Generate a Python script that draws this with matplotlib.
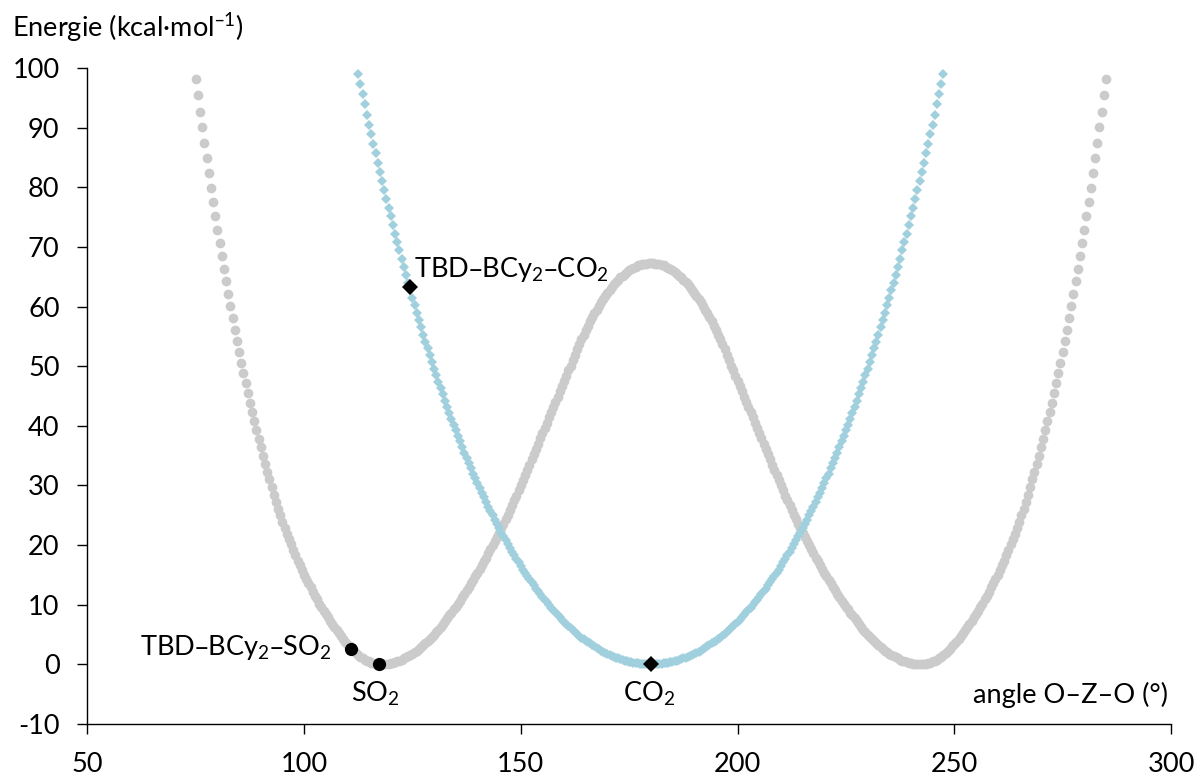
import numpy as np
import matplotlib
matplotlib.use("Agg")
import matplotlib.pyplot as plt

# ---------------- data ----------------
# angle grid of the scans: one point every 0.5 degree
gray_start, gray_stop, blue_start, blue_stop, step = 75.0, 285.0, 112.5, 247.5, 0.5

# SO2-like double well (grey), energies in kcal/mol, theta = 75 ... 285
gray_energy = [
    98.1, 95.4, 92.7, 90.1, 87.5, 84.9, 82.4, 79.9, 77.5, 75.2,
    72.9, 70.7, 68.5, 66.3, 64.2, 62.1, 60.1, 58.1, 56.1, 54.2,
    52.4, 50.6, 48.8, 47.1, 45.5, 43.9, 42.3, 40.8, 39.3, 37.8,
    36.4, 35.0, 33.6, 32.3, 31.0, 29.7, 28.4,
    27.2, 26.1, 25.0, 23.9, 22.9, 21.9, 21.0, 20.1, 19.2, 18.3,
    17.4, 16.6, 15.8, 15.0, 14.3, 13.6, 12.9, 12.2, 11.5, 10.9,
    10.2, 9.6, 9.0, 8.4, 7.9, 7.3, 6.8, 6.2, 5.7, 5.2,
    4.7, 4.3, 3.8, 3.4, 3.0, 2.6, 2.3, 1.9, 1.6, 1.3,
    1.1, 0.8, 0.6, 0.5, 0.3, 0.2, 0.1, 0.0, 0.0,
    0.0, 0.0, 0.1, 0.1, 0.2, 0.3, 0.4, 0.5, 0.6, 0.8,
    1.0, 1.2, 1.4, 1.6, 1.8, 2.0, 2.3, 2.6, 2.9, 3.2,
    3.5, 3.9, 4.2, 4.6, 5.0, 5.4, 5.8, 6.3, 6.7, 7.2,
    7.7, 8.2, 8.6, 9.2, 9.7, 10.2, 10.7, 11.3, 11.8, 12.4,
    13.0, 13.6, 14.1, 14.8, 15.4, 16.0, 16.6, 17.3, 17.9, 18.6,
    19.3, 20.0, 20.7, 21.4, 22.1, 22.8, 23.6, 24.3, 25.1, 25.9,
    26.7, 27.5, 28.3, 29.2, 30.0, 30.9, 31.8, 32.6, 33.5, 34.4,
    35.3, 36.1, 37.0, 37.9, 38.8, 39.6, 40.5, 41.4, 42.3, 43.1,
    44.0, 44.9, 45.8, 46.6, 47.5, 48.4, 49.3, 50.1, 51.0, 51.9,
    52.9, 53.7, 54.5, 55.3, 56.1, 56.8, 57.5, 58.2, 58.9, 59.5,
    60.1, 60.7, 61.3, 61.8, 62.3, 62.8, 63.3, 63.7, 64.1, 64.5,
    64.9, 65.2, 65.5, 65.8, 66.1, 66.3, 66.5, 66.7, 66.9, 67.0,
    67.1, 67.2, 67.2, 67.3, 67.3,
    67.3, 67.2, 67.2, 67.1,
    67.0, 66.9, 66.7, 66.5, 66.3, 66.1, 65.8, 65.5, 65.2, 64.9,
    64.5, 64.1, 63.7, 63.3, 62.8, 62.3, 61.8, 61.3, 60.7, 60.1,
    59.5, 58.9, 58.2, 57.5, 56.8, 56.1, 55.3, 54.5, 53.7, 52.9,
    51.9, 51.0, 50.1, 49.3, 48.4, 47.5, 46.6, 45.8, 44.9, 44.0,
    43.1, 42.3, 41.4, 40.5, 39.6, 38.8, 37.9, 37.0, 36.1, 35.3,
    34.4, 33.5, 32.6, 31.8, 30.9, 30.0, 29.2, 28.3, 27.5, 26.7,
    25.9, 25.1, 24.3, 23.6, 22.8, 22.1, 21.4, 20.7, 20.0, 19.3,
    18.6, 17.9, 17.3, 16.6, 16.0, 15.4, 14.8, 14.1, 13.6, 13.0,
    12.4, 11.8, 11.3, 10.7, 10.2, 9.7, 9.2, 8.6, 8.2, 7.7,
    7.2, 6.7, 6.3, 5.8, 5.4, 5.0, 4.6, 4.2, 3.9, 3.5,
    3.2, 2.9, 2.6, 2.3, 2.0, 1.8, 1.6, 1.4, 1.2, 1.0,
    0.8, 0.6, 0.5, 0.4, 0.3, 0.2, 0.1, 0.1, 0.0, 0.0,
    0.0, 0.0, 0.1, 0.2, 0.3, 0.5, 0.6, 0.8, 1.1,
    1.3, 1.6, 1.9, 2.3, 2.6, 3.0, 3.4, 3.8, 4.3, 4.7,
    5.2, 5.7, 6.2, 6.8, 7.3, 7.9, 8.4, 9.0, 9.6, 10.2,
    10.9, 11.5, 12.2, 12.9, 13.6, 14.3, 15.0, 15.8, 16.6, 17.4,
    18.3, 19.2, 20.1, 21.0, 21.9, 22.9, 23.9, 25.0, 26.1, 27.2,
    28.4, 29.7, 31.0, 32.3, 33.6, 35.0, 36.4,
    37.8, 39.3, 40.8, 42.3, 43.9, 45.5, 47.1, 48.8, 50.6, 52.4,
    54.2, 56.1, 58.1, 60.1, 62.1, 64.2, 66.3, 68.5, 70.7, 72.9,
    75.2, 77.5, 79.9, 82.4, 84.9, 87.5, 90.1, 92.7, 95.4, 98.1,
]

# CO2-like single well (blue), theta = 112.5 ... 247.5
blue_energy = [
    99.0, 97.3, 95.6, 93.9, 92.2, 90.5, 88.9, 87.3, 85.7, 84.1,
    82.6, 81.0, 79.5, 78.0, 76.5, 75.1, 73.6, 72.2, 70.8, 69.4,
    68.0, 66.7, 65.3, 64.0, 62.7, 61.4, 60.2, 58.9, 57.7, 56.5,
    55.3, 54.1, 53.0, 51.8, 50.7, 49.6, 48.5, 47.4, 46.3, 45.3,
    44.2, 43.2, 42.2, 41.2, 40.2, 39.3, 38.3, 37.4, 36.4, 35.5,
    34.6, 33.8, 32.9, 32.0, 31.2, 30.4, 29.6, 28.8, 28.0, 27.2,
    26.4, 25.7, 25.0, 24.2, 23.5, 22.8, 22.1, 21.5, 20.8, 20.2,
    19.5, 18.9, 18.3, 17.7, 17.1, 16.5, 15.9, 15.4, 14.8, 14.3,
    13.8, 13.3, 12.7, 12.3, 11.8, 11.3, 10.8, 10.4, 9.9, 9.5,
    9.1, 8.7, 8.3, 7.9, 7.5, 7.1, 6.8, 6.4, 6.1, 5.8,
    5.4, 5.1, 4.8, 4.5, 4.3, 4.0, 3.7, 3.5, 3.2, 3.0,
    2.8, 2.5, 2.3, 2.1, 1.9, 1.8, 1.6, 1.4, 1.3, 1.1,
    1.0, 0.9, 0.7, 0.6, 0.5, 0.4, 0.4, 0.3, 0.2, 0.2,
    0.1, 0.1, 0.0, 0.0, 0.0, 0.0,
    0.0, 0.0, 0.0, 0.1, 0.1,
    0.2, 0.2, 0.3, 0.4, 0.4, 0.5, 0.6, 0.7, 0.9, 1.0,
    1.1, 1.3, 1.4, 1.6, 1.8, 1.9, 2.1, 2.3, 2.5, 2.8,
    3.0, 3.2, 3.5, 3.7, 4.0, 4.3, 4.5, 4.8, 5.1, 5.4,
    5.8, 6.1, 6.4, 6.8, 7.1, 7.5, 7.9, 8.3, 8.7, 9.1,
    9.5, 9.9, 10.4, 10.8, 11.3, 11.8, 12.3, 12.7, 13.3, 13.8,
    14.3, 14.8, 15.4, 15.9, 16.5, 17.1, 17.7, 18.3, 18.9, 19.5,
    20.2, 20.8, 21.5, 22.1, 22.8, 23.5, 24.2, 25.0, 25.7, 26.4,
    27.2, 28.0, 28.8, 29.6, 30.4, 31.2, 32.0, 32.9, 33.8, 34.6,
    35.5, 36.4, 37.4, 38.3, 39.3, 40.2, 41.2, 42.2, 43.2, 44.2,
    45.3, 46.3, 47.4, 48.5, 49.6, 50.7, 51.8, 53.0, 54.1, 55.3,
    56.5, 57.7, 58.9, 60.2, 61.4, 62.7, 64.0, 65.3, 66.7, 68.0,
    69.4, 70.8, 72.2, 73.6, 75.1, 76.5, 78.0, 79.5, 81.0, 82.6,
    84.1, 85.7, 87.3, 88.9, 90.5, 92.2, 93.9, 95.6, 97.3, 99.0,
]

# highlighted structures
so2_points_x = [110.8, 117.4]
so2_points_y = [2.6, 0.0]
co2_points_x = [124.4, 180.0]
co2_points_y = [63.3, 0.0]

x_ticks = [50, 100, 150, 200, 250, 300]
y_ticks = [-10, 0, 10, 20, 30, 40, 50, 60, 70, 80, 90, 100]

# ---------------- style ----------------
plt.rcParams['font.family'] = ['Lato', 'DejaVu Sans']
plt.rcParams['mathtext.default'] = 'regular'
plt.rcParams['axes.unicode_minus'] = False

FS = 19.5
GRAY = '#CBCBCB'
BLUE = '#A0CFDD'

fig = plt.figure(figsize=(11.98, 7.78), dpi=100)
ax = fig.add_axes([87.3 / 1198, 1 - 724 / 778, (1171 - 87.3) / 1198, (724 - 68) / 778])

gray_theta = np.arange(gray_start, gray_stop + step / 2, step)
blue_theta = np.arange(blue_start, blue_stop + step / 2, step)

g_line, = ax.plot(gray_theta, gray_energy, linestyle='none', marker='o', markersize=7.0,
                  color=GRAY, markeredgewidth=0, zorder=2, clip_on=False)
b_line, = ax.plot(blue_theta, blue_energy, linestyle='none', marker='D', markersize=4.6,
                  color=BLUE, markeredgewidth=0, zorder=3, clip_on=False)
g_line.set_snap(False)
b_line.set_snap(False)

ax.plot(so2_points_x, so2_points_y, linestyle='none', marker='o', markersize=9.5,
        color='black', markeredgewidth=0, zorder=5)
ax.plot(co2_points_x, co2_points_y, linestyle='none', marker='D', markersize=8.5,
        color='black', markeredgewidth=0, zorder=5)

ax.set_xlim(50, 300)
ax.set_ylim(-10, 100)
ax.set_xticks(x_ticks)
ax.set_yticks(y_ticks)
ax.set_xticklabels([str(v) for v in x_ticks])
ax.set_yticklabels([str(v) for v in y_ticks])

for s in ['top', 'right']:
    ax.spines[s].set_visible(False)
for s in ['left', 'bottom']:
    ax.spines[s].set_linewidth(1.0)
    ax.spines[s].set_color('black')
ax.tick_params(direction='out', length=7, width=1.0, colors='black',
               labelsize=FS, pad=13)

# annotations
ax.text(125.4, 65.0, 'TBD–BCy$_2$–CO$_2$', fontsize=FS, ha='left', va='baseline')
ax.text(106.4, 1.5, 'TBD–BCy$_2$–SO$_2$', fontsize=FS, ha='right', va='baseline')
ax.text(116.5, -6.25, 'SO$_2$', fontsize=FS, ha='center', va='baseline')
ax.text(179.6, -6.25, 'CO$_2$', fontsize=FS, ha='center', va='baseline')
ax.text(299.3, -6.5, 'angle O–Z–O (°)', fontsize=FS, ha='right', va='baseline')

fig.text(12 / 1198, 1 - 37.3 / 778, 'Energie (kcal·mol$^{–1}$)', fontsize=FS,
         ha='left', va='baseline')

fig.savefig('out.png', dpi=100)
